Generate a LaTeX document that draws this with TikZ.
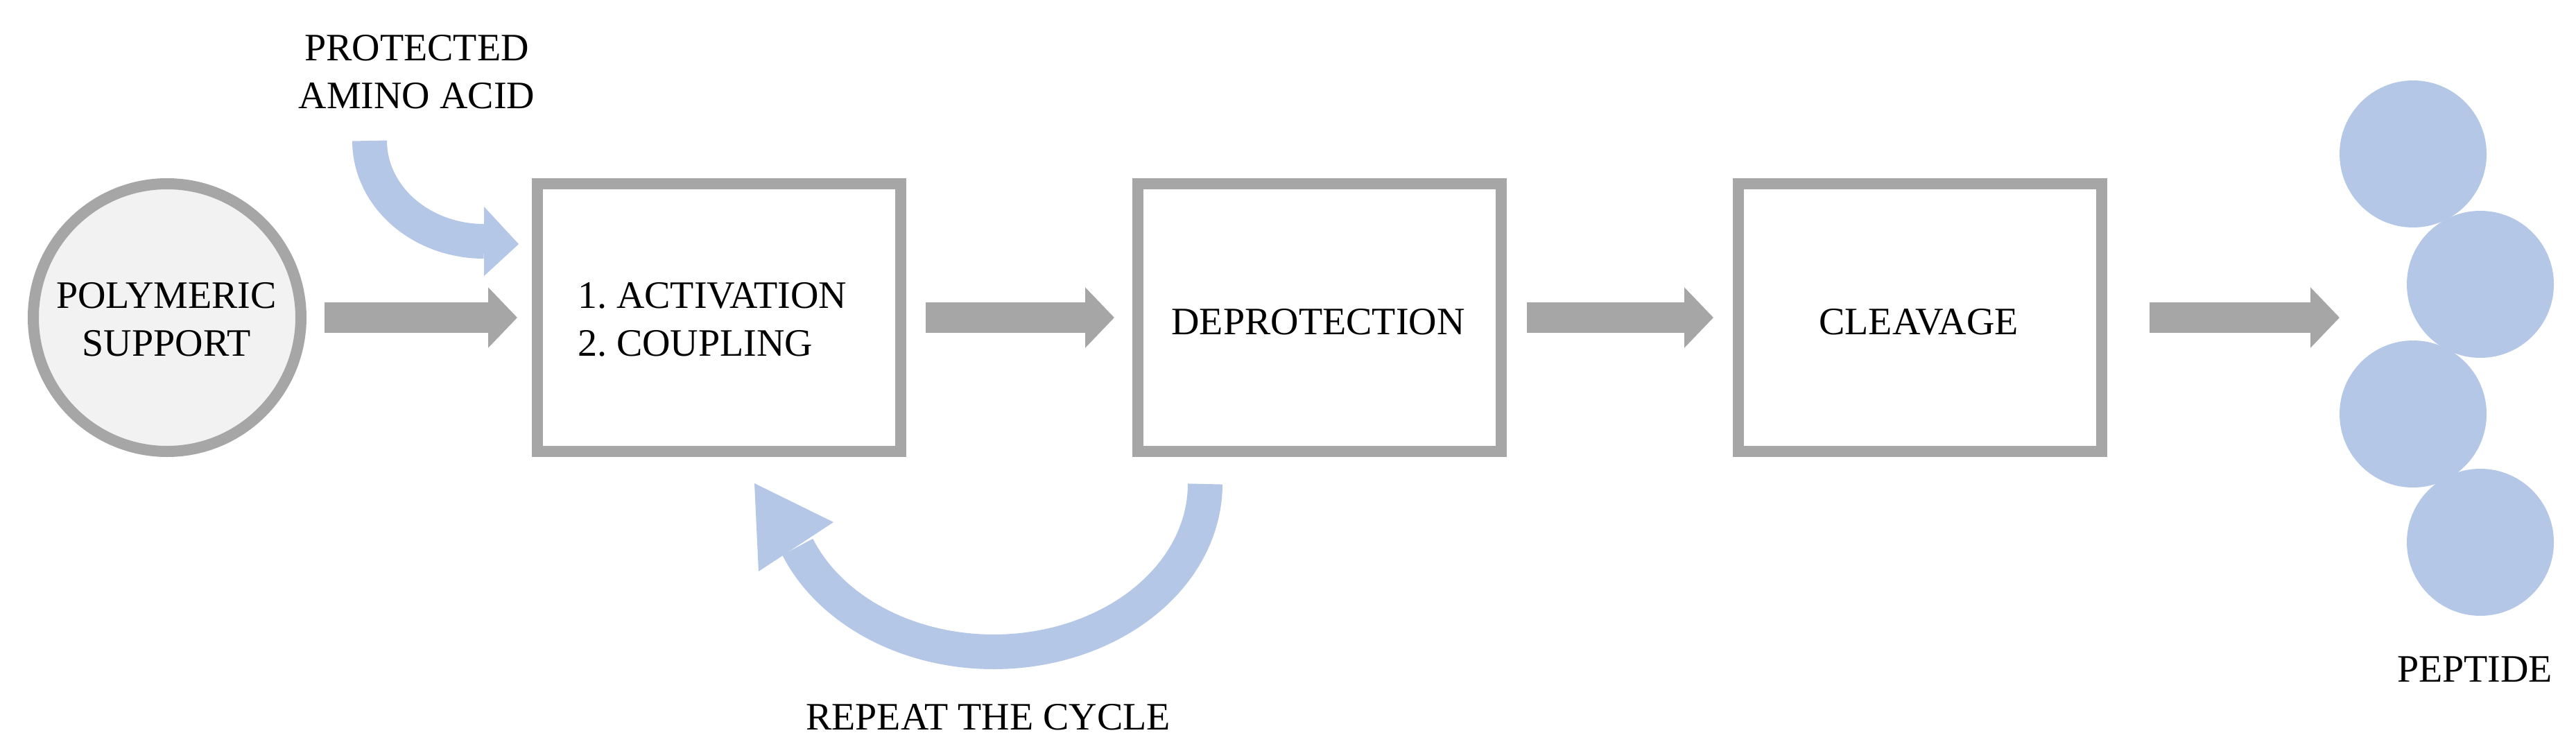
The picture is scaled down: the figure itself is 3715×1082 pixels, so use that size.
\documentclass[tikz,border=0pt]{standalone}
\usepackage{fontspec}
\setmainfont{Liberation Serif}
\usetikzlibrary{arrows.meta}
\definecolor{boxgray}{HTML}{A6A6A6}
\definecolor{paleblue}{HTML}{B4C7E7}
\definecolor{supfill}{HTML}{F2F2F2}
\begin{document}
\begin{tikzpicture}[x=1pt,y=-1pt,
  lbl/.style={font=\fontsize{56}{69}\selectfont, inner sep=0pt, outer sep=0pt},
  stepbox/.style={draw=boxgray, line width=16pt, fill=white, minimum width=524pt, minimum height=386pt, inner sep=0pt, outer sep=0pt},
  garrow/.style={draw=boxgray, line width=44pt, -{Triangle[length=42pt,width=85pt]}},
  bead/.style={circle, fill=paleblue, minimum size=212pt, inner sep=0pt, outer sep=0pt},
  bluearc/.style={draw=paleblue, line width=50pt}]
\useasboundingbox (0,0) rectangle (3715,1082);
\fill[white] (0,0) rectangle (3715,1082);
% nodes
\node[circle, draw=boxgray, fill=supfill, line width=16pt, minimum size=386pt, inner sep=0pt, outer sep=0pt] (sup) at (241,458) {};
\node[stepbox] (act) at (1037,458) {};
\node[stepbox] (dep) at (1903,458) {};
\node[stepbox] (clv) at (2769,458) {};
\node[bead] (b1) at (3480,222) {};
\node[bead] (b2) at (3577,410) {};
\node[bead] (b3) at (3480,597) {};
\node[bead] (b4) at (3577,782) {};
% labels (base anchor = last line's baseline)
\node[lbl, anchor=base, align=center] (suptxt) at (240,513) {POLYMERIC\\SUPPORT};
\node[lbl, anchor=base west, align=left] (acttxt) at (833,513) {1.\ ACTIVATION\\2.\ COUPLING};
\node[lbl, anchor=base] (deptxt) at (1901,482) {DEPROTECTION};
\node[lbl, anchor=base] (clvtxt) at (2767,482) {CLEAVAGE};
\node[lbl, anchor=base, align=center] (aatxt) at (601,156) {PROTECTED\\AMINO ACID};
\node[lbl, anchor=base] (reptxt) at (1425,1052) {REPEAT THE CYCLE};
\node[lbl, anchor=base] (peptxt) at (3569,983) {PEPTIDE};
% gray connectors
\draw[garrow] ([xshift=34pt]sup.east) -- ([xshift=-29pt]sup.east -| act.west);
\draw[garrow] ([xshift=36pt]act.east) -- ([xshift=-34pt]dep.west);
\draw[garrow] ([xshift=37pt]dep.east) -- ([xshift=-36pt]clv.west);
\draw[garrow] ([xshift=69pt]clv.east) -- (clv.east -| b1.west);
% blue curved arrow: protected amino acid -> activation
\draw[bluearc] plot[domain=180:90, samples=50] ({698+165*cos(\x)}, {203+145*sin(\x)});
\fill[paleblue] (698,298) -- (748,352) -- (698,398) -- cycle;
% blue curved arrow: repeat the cycle
\draw[bluearc] plot[domain=0:158, samples=80] ({1433+305*cos(\x)}, {698+242*sin(\x)});
\fill[paleblue] (1088,697) -- (1202,753) -- (1094,824) -- cycle;
\end{tikzpicture}
\end{document}
